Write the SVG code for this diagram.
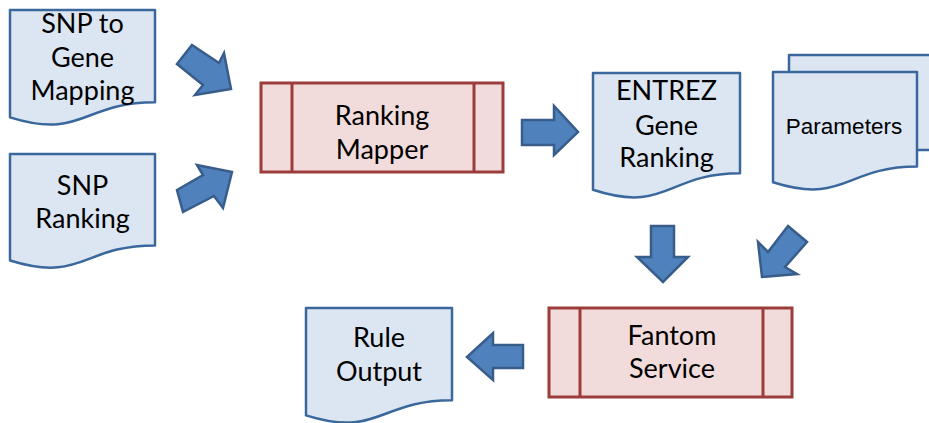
<svg xmlns="http://www.w3.org/2000/svg" width="929" height="423" viewBox="0 0 929 423">
  <style>
    .doc { fill: #dce6f2; stroke: #3a679c; stroke-width: 2.5; stroke-linejoin: round; }
    .proc { fill: #f2dcdb; stroke: #9b3d3b; stroke-width: 3; }
    .arrow { fill: #4f81bd; stroke: #385d8a; stroke-width: 2.5; stroke-linejoin: miter; }
    .lbl { font-family: Lato, "Noto Sans", sans-serif; font-size: 27px; fill: #000; text-anchor: middle; }
    .lbl-arial { font-family: "Liberation Sans", Arial, sans-serif; font-size: 22.5px; fill: #000; text-anchor: middle; }
  </style>

  <g id="snp-to-gene-mapping">
    <path class="doc" d="M10,10 H155 V102.2 C82.5,102.2 82.5,140 10,117.4 Z"/>
    <text class="lbl" x="82.5" y="33">SNP to</text>
    <text class="lbl" x="82.5" y="67">Gene</text>
    <text class="lbl" x="82.5" y="100">Mapping</text>
  </g>

  <g id="snp-ranking">
    <path class="doc" d="M10,154 H155 V245.4 C82.5,245.4 82.5,283 10,260.5 Z"/>
    <text class="lbl" x="82.5" y="195">SNP</text>
    <text class="lbl" x="82.5" y="228">Ranking</text>
  </g>

  <g id="ranking-mapper">
    <rect class="proc" x="261" y="83" width="242" height="89"/>
    <line class="proc" x1="292" y1="83" x2="292" y2="172"/>
    <line class="proc" x1="474" y1="83" x2="474" y2="172"/>
    <text class="lbl" x="382" y="125">Ranking</text>
    <text class="lbl" x="382" y="159">Mapper</text>
  </g>

  <g id="entrez-gene-ranking">
    <path class="doc" d="M593,73 H740 V173.3 C666.5,173.3 666.5,214 593,189.8 Z"/>
    <text class="lbl" x="666.5" y="100">ENTREZ</text>
    <text class="lbl" x="666.5" y="135">Gene</text>
    <text class="lbl" x="666.5" y="167">Ranking</text>
  </g>

  <g id="parameters">
    <rect class="doc" x="789" y="55" width="152" height="95"/>
    <path class="doc" d="M773,72 H917 V166.6 C845,166.6 845,205 773,182.2 Z"/>
    <text class="lbl-arial" x="844" y="134">Parameters</text>
  </g>

  <g id="fantom-service">
    <rect class="proc" x="549" y="308" width="243" height="89"/>
    <line class="proc" x1="580" y1="308" x2="580" y2="397"/>
    <line class="proc" x1="763" y1="308" x2="763" y2="397"/>
    <text class="lbl" x="672" y="345">Fantom</text>
    <text class="lbl" x="672" y="378">Service</text>
  </g>

  <g id="rule-output">
    <path class="doc" d="M306,308 H452 V400.2 C379,400.2 379,438 306,415.4 Z"/>
    <text class="lbl" x="379" y="347">Rule</text>
    <text class="lbl" x="379" y="381">Output</text>
  </g>

  <g id="connectors">
    <!-- SNP to Gene Mapping -> Ranking Mapper -->
    <polygon class="arrow" points="192,45 219,63 224,53 231,89 195,95 203,85 177,64"/>
    <!-- SNP Ranking -> Ranking Mapper -->
    <polygon class="arrow" points="177,190 203,175 197,165 232,172 223,208 214,196 183,212"/>
    <!-- Ranking Mapper -> ENTREZ Gene Ranking -->
    <polygon class="arrow" points="522,120 554,120 554,106 578,132 554,155 554,145 522,145"/>
    <!-- ENTREZ Gene Ranking -> Fantom Service -->
    <polygon class="arrow" points="651,226 674,226 674,257 688,257 663,282 637,257 651,257"/>
    <!-- Parameters -> Fantom Service -->
    <polygon class="arrow" points="788,226 807,242 785,267 797,274 762,277 758,242 768,252"/>
    <!-- Fantom Service -> Rule Output -->
    <polygon class="arrow" points="523,345 493,345 493,333 467,357 493,380 493,368 523,368"/>
  </g>
</svg>
